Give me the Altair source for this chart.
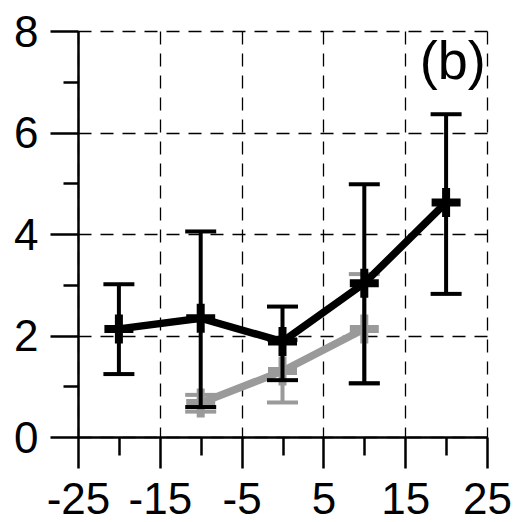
import altair as alt
import pandas as pd

# ---- data ----
x_black = [-20, -10, 0, 10, 20]
y_black = [2.13, 2.34, 1.88, 3.03, 4.62]
lo_black = [1.24, 0.59, 1.12, 1.06, 2.82]
hi_black = [3.01, 4.05, 2.57, 4.98, 6.36]

x_gray = [-10, 0, 10]
y_gray = [0.67, 1.30, 2.13]
lo_gray = [0.50, 0.68, 1.05]
hi_gray = [0.83, 1.91, 3.21]

x_ticks = [-25, -20, -15, -10, -5, 0, 5, 10, 15, 20, 25]
y_ticks = [0, 1, 2, 3, 4, 5, 6, 7, 8]

panel_label = ["(b)"]
label_x = [20.8]
label_y = [7.05]

FONT = "Liberation Sans"
GRAY = "#9a9a9a"

black = pd.DataFrame({"x": x_black, "y": y_black, "lo": lo_black, "hi": hi_black})
gray = pd.DataFrame({"x": x_gray, "y": y_gray, "lo": lo_gray, "hi": hi_gray})
lab = pd.DataFrame({"x": label_x, "y": label_y, "t": panel_label})

x_major = "(datum.value + 25) % 10 === 0"
y_major = "datum.value % 2 === 0"

common_axis = dict(
    title=None,
    labelFont=FONT,
    labelFontSize=44,
    labelColor="black",
    tickColor="black",
    tickWidth=2.5,
    domainColor="black",
    domainWidth=2.5,
    grid=True,
    gridColor="black",
    gridDash=[13, 9],
    gridWidth=1.3,
    labelFlush=False,
    labelOverlap=False,
)

x_axis = alt.Axis(
    values=x_ticks,
    labelExpr=f"{x_major} ? toString(datum.value) : ''",
    tickSize={"condition": {"test": x_major, "value": 31}, "value": 18},
    gridOpacity={"condition": {"test": x_major, "value": 1}, "value": 0},
    labelPadding=10,
    labelAngle=0,
    **common_axis,
)
y_axis = alt.Axis(
    values=y_ticks,
    labelExpr=f"{y_major} ? toString(datum.value) : ''",
    tickSize={"condition": {"test": y_major, "value": 28}, "value": 15},
    gridOpacity={"condition": {"test": y_major, "value": 1}, "value": 0},
    labelPadding=12,
    labelOffset=2,
    **common_axis,
)

x_scale = alt.Scale(domain=[-25, 25], nice=False, zero=False)
y_scale = alt.Scale(domain=[0, 8], nice=False, zero=False)


def X():
    return alt.X("x:Q", scale=x_scale, axis=x_axis)


def Y(field):
    return alt.Y(f"{field}:Q", scale=y_scale, axis=y_axis)


def series(df, color):
    base = alt.Chart(df)
    rule = base.mark_rule(color=color, strokeWidth=4).encode(x=X(), y=Y("lo"), y2="hi:Q")
    caps = (
        base.transform_fold(["lo", "hi"], as_=["k", "v"])
        .mark_tick(orient="horizontal", size=31, thickness=4, color=color, opacity=1)
        .encode(x=X(), y=Y("v"))
    )
    line = base.mark_line(color=color, strokeWidth=7.5).encode(x=X(), y=Y("y"))
    pts = base.mark_point(
        shape="M-1,0H1M0,-1V1", size=840, strokeWidth=8, filled=False, color=color, opacity=1
    ).encode(x=X(), y=Y("y"))
    return [rule, caps, line, pts]


text = alt.Chart(lab).mark_text(
    font=FONT, fontSize=54, color="black", align="center", baseline="alphabetic"
).encode(x=X(), y=Y("y"), text="t:N")

chart = (
    alt.layer(*series(gray, GRAY), *series(black, "black"), text)
    .properties(
        width=409,
        height=406,
        autosize=alt.AutoSizeParams(type="none"),
        padding={"left": 78, "top": 31, "right": 29, "bottom": 85},
        background="white",
    )
    .configure_view(stroke=None)
)

chart.save("out.html", embed_options={"renderer": "svg", "actions": False})
